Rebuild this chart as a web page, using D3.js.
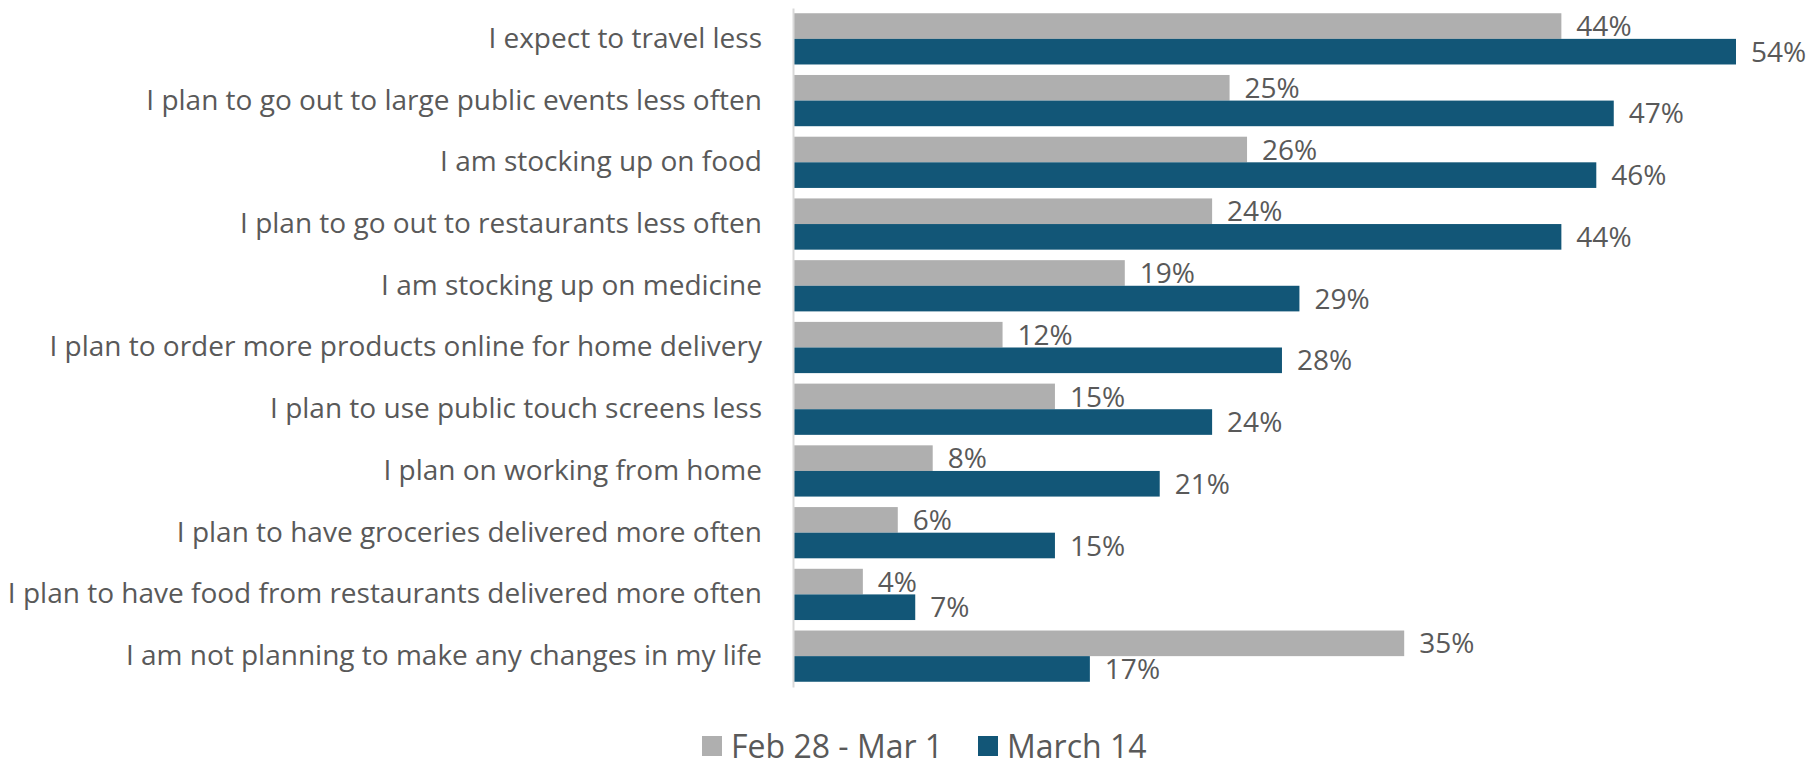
<!DOCTYPE html>
<html>
<head>
<meta charset="utf-8">
<script src="https://cdn.jsdelivr.net/npm/d3@7"></script>
<style>
  body { margin: 0; background: #fff; }
  text { font-family: "Open Sans", sans-serif; fill: #595959; }
</style>
</head>
<body>
<script>
(function () {

var categories = [
    "I expect to travel less",
    "I plan to go out to large public events less often",
    "I am stocking up on food",
    "I plan to go out to restaurants less often",
    "I am stocking up on medicine",
    "I plan to order more products online for home delivery",
    "I plan to use public touch screens less",
    "I plan on working from home",
    "I plan to have groceries delivered more often",
    "I plan to have food from restaurants delivered more often",
    "I am not planning to make any changes in my life"
];
var seriesNames = ["Feb 28 - Mar 1", "March 14"];
var febValues = [44, 25, 26, 24, 19, 12, 15, 8, 6, 4, 35];
var marValues = [54, 47, 46, 44, 29, 28, 24, 21, 15, 7, 17];
var colors = ["#afafaf", "#125677"];

var width = 1810,
    height = 767,
    axisX = 793,
    top = 8,
    bottom = 687;

var data = categories.map(function (c, i) {
    return { cat: c, values: [febValues[i], marValues[i]] };
});

var y = d3.scaleBand()
    .domain(categories)
    .range([top, bottom])
    .paddingInner(0.17)
    .paddingOuter(0.085);

var y1 = d3.scaleBand()
    .domain([0, 1])
    .range([0, y.bandwidth()]);

var x = d3.scaleLinear()
    .domain([0, 54])
    .range([axisX, 1736]);

var svg = d3.select("body").append("svg")
    .attr("width", width)
    .attr("height", height);

var groups = svg.selectAll("g.cat")
    .data(data)
    .enter()
    .append("g")
    .attr("class", "cat")
    .attr("transform", function (d) { return "translate(0," + y(d.cat) + ")"; });

groups.selectAll("rect")
    .data(function (d) { return d.values; })
    .enter()
    .append("rect")
    .attr("x", x(0))
    .attr("y", function (d, i) { return y1(i); })
    .attr("width", function (d) { return x(d) - x(0); })
    .attr("height", y1.bandwidth())
    .attr("fill", function (d, i) { return colors[i]; });

groups.selectAll("text.val")
    .data(function (d) { return d.values; })
    .enter()
    .append("text")
    .attr("class", "val")
    .attr("x", function (d) { return x(d) + 15; })
    .attr("y", function (d, i) { return y1(i) + y1.bandwidth() / 2; })
    .attr("dy", "0.36em")
    .style("font-size", "28px")
    .text(function (d) { return d + "%"; });

// category axis
var yAxis = d3.axisLeft(y).tickSize(0).tickPadding(31);
var ga = svg.append("g")
    .attr("transform", "translate(" + axisX + ",0)")
    .call(yAxis);
ga.select(".domain").attr("stroke", "#d9d9d9").attr("stroke-width", 2);
ga.selectAll("text")
    .style("font-family", "'Open Sans', sans-serif")
    .style("font-size", "28px")
    .attr("fill", "#595959");

// legend
var legend = svg.append("g").attr("transform", "translate(0,746)");
var legendX = [702, 978];
seriesNames.forEach(function (name, i) {
    legend.append("rect")
        .attr("x", legendX[i])
        .attr("y", -10)
        .attr("width", 20)
        .attr("height", 20)
        .attr("fill", colors[i]);
    legend.append("text")
        .attr("x", legendX[i] + 29)
        .attr("y", 0)
        .attr("dy", "0.36em")
        .style("font-size", "32px")
        .text(name);
});

})();
</script>
</body>
</html>
